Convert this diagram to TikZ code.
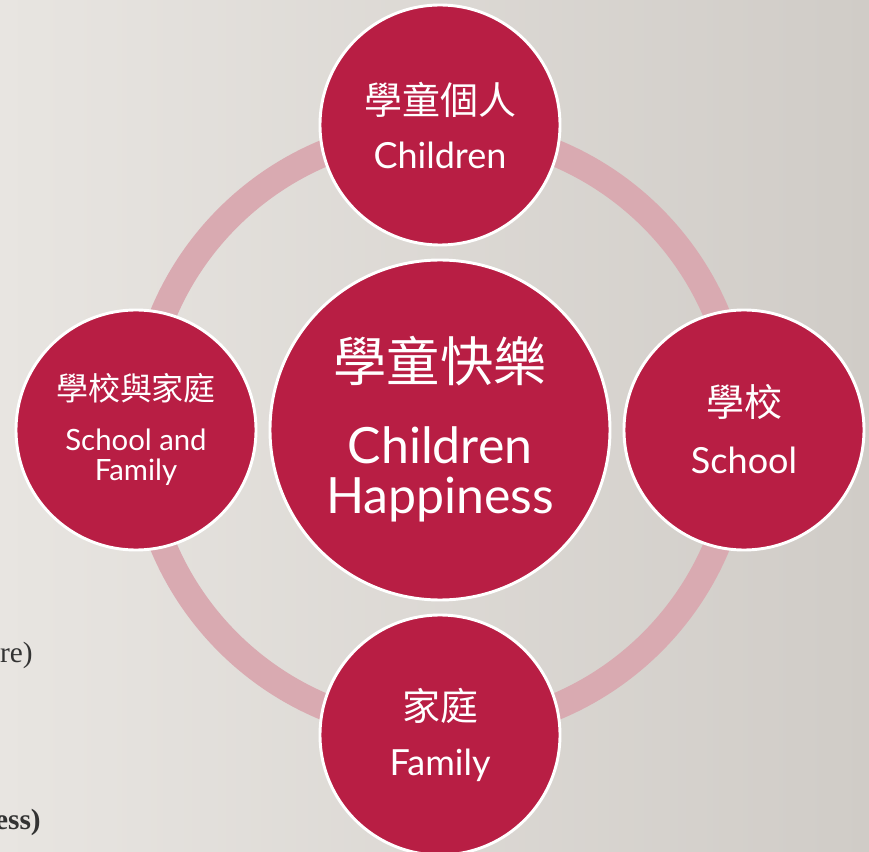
\documentclass[tikz,border=0pt]{standalone}
\usepackage{fontspec}
\setmainfont{Liberation Serif}
\newfontfamily\lat{Lato}
\newfontfamily\cjk{Noto Sans CJK TC}
\definecolor{berry}{RGB}{184,30,68}
\definecolor{ringc}{RGB}{217,170,177}
\definecolor{bgl}{RGB}{232,229,225}
\definecolor{bgr}{RGB}{208,204,199}
\tikzset{
  bubble/.style={circle, fill=berry, draw=white, line width=2.2pt, inner sep=0pt, minimum size=180pt},
  hub/.style={bubble, minimum size=255pt},
  zh/.style={text=white, font=\cjk\fontsize{28.5}{32}\selectfont, inner sep=0pt},
  en/.style={text=white, font=\lat\fontsize{27}{31}\selectfont, inner sep=0pt, align=center},
  cut/.style={text=black!80, font=\fontsize{22}{26}\selectfont, inner sep=0pt, anchor=east}
}
\begin{document}
\begin{tikzpicture}[x=0.75pt,y=-0.75pt]
\shade[left color=bgl, right color=bgr] (0,0) rectangle (869,852);
\useasboundingbox (0,0) rectangle (869,852);
\draw[ringc, line width=20pt] (440,430) circle[radius=225pt];
\node[bubble] (child) at (440,125) {};
\node[bubble] (school) at (744,430) {};
\node[bubble] (family) at (440,735) {};
\node[bubble] (sf) at (136,430) {};
\node[hub] (hub) at (440,430) {};
\node[zh] (childzh) at (440,100) {學童個人};
\node[en] (childen) at (440,155) {Children};
\node[zh, font=\cjk\fontsize{40}{44}\selectfont] (hubzh) at (440,361) {學童快樂};
\node[en, font=\lat\fontsize{37.5}{43}\selectfont] (huben1) at (440,445) {Children};
\node[en, font=\lat\fontsize{37.5}{43}\selectfont] (huben2) at (440,500) {Happiness};
\node[zh] (schoolzh) at (744,402) {學校};
\node[en] (schoolen) at (744,460) {School};
\node[zh] (familyzh) at (440,706) {家庭};
\node[en] (familyen) at (440,765) {Family};
\node[zh, font=\cjk\fontsize{24}{28}\selectfont] (sfzh) at (136,388) {學校與家庭};
\node[en, font=\lat\fontsize{22}{26}\selectfont] (sfen1) at (136,440) {School and};
\node[en, font=\lat\fontsize{22}{26}\selectfont] (sfen2) at (136,472) {Family};
\node[cut] (cut1) at (33,655) {re)};
\node[cut, font=\bfseries\fontsize{22}{26}\selectfont] (cut2) at (41,822) {ess)};
\end{tikzpicture}
\end{document}
